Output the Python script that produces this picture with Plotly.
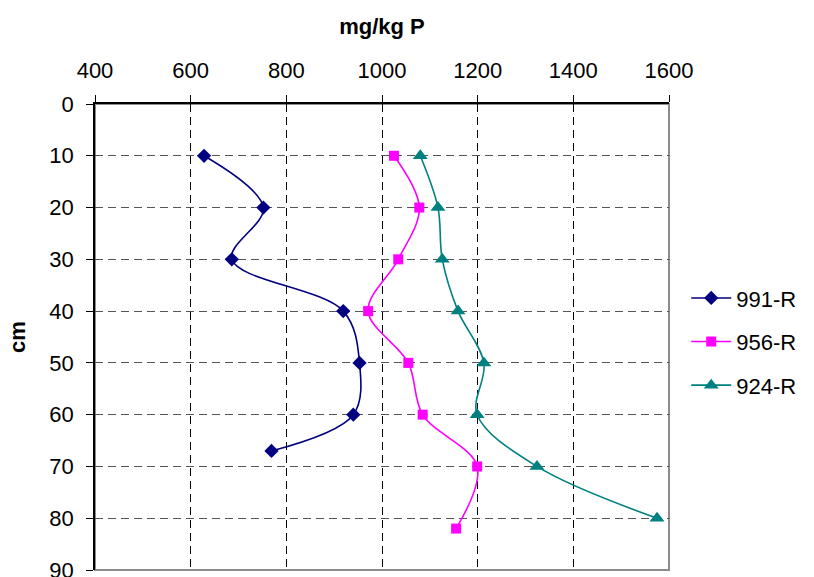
import plotly.graph_objects as go

# Phosphorus profiles (mg/kg P) against sampling depth (cm)
depth_991 = [10, 20, 30, 40, 50, 60, 67]
p_991 = [628, 752, 686, 919, 953, 940, 769]

depth_956 = [10, 20, 30, 40, 50, 60, 70, 82]
p_956 = [1025, 1078, 1034, 971, 1055, 1085, 1199, 1155]

depth_924 = [10, 20, 30, 40, 50, 60, 70, 80]
p_924 = [1080, 1117, 1126, 1159, 1213, 1199, 1324, 1575]

series = [
    ("991-R", p_991, depth_991, "#000080", "diamond", 11),
    ("956-R", p_956, depth_956, "#FF00FF", "square", 10),
    ("924-R", p_924, depth_924, "#008080", "triangle-up", 13),
]

FONT = "Liberation Sans, Arial, sans-serif"
FS = 22

fig = go.Figure()
for name, xs, ys, color, symbol, size in series:
    fig.add_trace(go.Scatter(
        x=xs, y=ys, name=name, mode="lines+markers",
        line=dict(color=color, width=1.6, shape="spline", smoothing=1.0),
        marker=dict(symbol=symbol, size=size, color=color),
        legendgroup=name,
    ))

# plot-area frame: grey on the right and bottom, axis lines drawn over it
fig.add_shape(type="rect", xref="paper", yref="paper", x0=0, x1=1, y0=0, y1=1,
              line=dict(color="#8c8c8c", width=2), layer="below")

fig.update_layout(
    width=814, height=577,
    margin=dict(l=95, r=145, t=104, b=7),
    paper_bgcolor="white", plot_bgcolor="white",
    font=dict(family=FONT, size=FS, color="black"),
    legend=dict(x=1.03, xanchor="left", y=0.49, yanchor="middle",
                font=dict(size=FS), tracegroupgap=12, traceorder="grouped",
                itemwidth=40, bgcolor="rgba(0,0,0,0)"),
    xaxis=dict(
        side="top", range=[400, 1600], tick0=400, dtick=200,
        showline=True, linecolor="black", linewidth=1.5,
        ticks="outside", ticklen=7, tickcolor="black", tickwidth=1,
        showgrid=True, gridcolor="black", gridwidth=1, griddash="8px,5px",
        zeroline=False, ticklabelstandoff=8, ticklabeloverflow="allow",
        automargin=False,
        title=dict(text="<b>mg/kg P</b>", font=dict(size=FS), standoff=18),
    ),
    yaxis=dict(
        autorange=False, range=[90, 0], tick0=0, dtick=10,
        showline=True, linecolor="black", linewidth=1.5,
        ticks="outside", ticklen=7, tickcolor="black", tickwidth=1,
        showgrid=True, gridcolor="#555555", gridwidth=1, griddash="8px,5px",
        zeroline=False, ticklabelstandoff=8, ticklabeloverflow="allow",
        automargin=False,
        title=dict(text="<b>cm</b>", font=dict(size=FS), standoff=18),
    ),
)

fig.write_html("out.html")
